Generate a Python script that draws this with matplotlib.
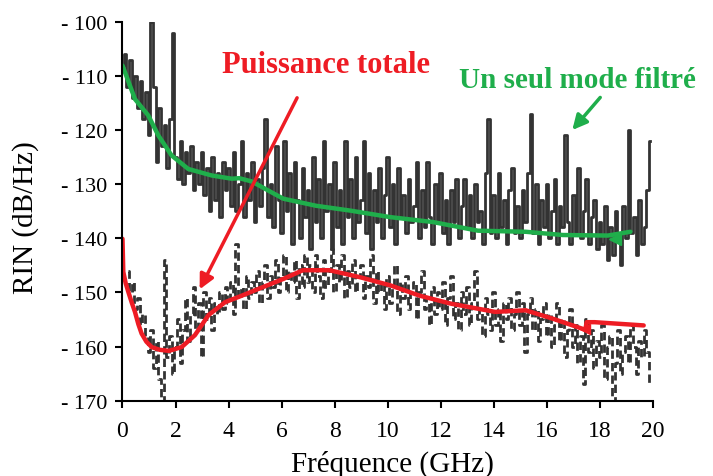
import numpy as np
import matplotlib.pyplot as plt

plt.rcParams['font.family'] = ['Liberation Serif', 'DejaVu Serif']

red = '#ee1c24'
green = '#1fae4b'
trace = '#333333'

# measured RIN, single filtered mode (0 .. 19.9 GHz, 0.1 GHz step)
f_mode = np.arange(200) / 10.0
rin_mode = [
    -108, -106, -112, -107, -114, -110, -116, -111, -118, -113,
    -121, -100, -112, -126, -116, -123, -119, -127, -118, -102,
    -125, -129, -122, -130, -124, -128, -123, -131, -126, -130,
    -124, -132, -127, -135, -125, -133, -128, -136, -126, -131,
    -127, -134, -124, -135, -130, -122, -136, -128, -133, -126,
    -137, -129, -134, -127, -118, -136, -130, -138, -123, -133,
    -139, -122, -135, -128, -141, -126, -133, -140, -127, -136,
    -131, -142, -125, -137, -129, -140, -122, -135, -130, -142,
    -126, -138, -131, -141, -122, -136, -129, -140, -125, -137,
    -133, -122, -139, -128, -142, -131, -137, -127, -140, -132,
    -125, -138, -130, -141, -127, -136, -132, -139, -129, -137,
    -134, -126, -140, -131, -138, -126, -136, -141, -130, -137,
    -128, -139, -133, -141, -131, -137, -129, -140, -134, -129,
    -138, -132, -140, -130, -137, -135, -141, -128, -118, -139,
    -132, -140, -128, -138, -133, -141, -131, -127, -139, -134,
    -140, -131, -137, -128, -117, -139, -130, -141, -133, -138,
    -130, -140, -135, -129, -141, -134, -138, -121, -137, -141,
    -132, -139, -127, -140, -135, -129, -141, -136, -133, -142,
    -137, -141, -134, -144, -138, -143, -135, -140, -145, -134,
    -140, -120, -139, -136, -143, -133, -141, -138, -131, -122,
]

# measured RIN, total power (0.2 .. 19.9 GHz, 0.1 GHz step)
f_tot = np.arange(2, 200) / 10.0
rin_tot = [
    -146, -150, -148, -153, -151, -156, -154, -158,
    -161, -157, -164, -159, -166, -170, -144, -162, -158, -165,
    -160, -155, -163, -157, -151, -159, -154, -149, -157, -152,
    -162, -150, -155, -151, -157, -152, -154, -150, -153, -149,
    -152, -148, -154, -141, -151, -149, -153, -147, -151, -148,
    -150, -146, -152, -148, -145, -151, -147, -149, -144, -150,
    -147, -143, -150, -146, -148, -144, -151, -145, -149, -143,
    -148, -145, -150, -143, -147, -151, -144, -149, -146, -142,
    -150, -145, -148, -143, -151, -146, -149, -144, -150, -147,
    -145, -151, -147, -149, -143, -152, -146, -150, -148, -153,
    -147, -152, -149, -145, -154, -148, -151, -147, -153, -150,
    -148, -155, -150, -146, -153, -151, -156, -149, -154, -150,
    -153, -148, -156, -151, -147, -155, -152, -157, -150, -154,
    -149, -156, -152, -146, -155, -153, -158, -151, -154, -157,
    -150, -156, -153, -159, -152, -155, -151, -157, -154, -150,
    -156, -152, -161, -154, -151, -157, -153, -159, -155, -152,
    -158, -154, -160, -156, -152, -159, -155, -162, -157, -153,
    -160, -156, -163, -158, -167, -155, -161, -157, -164, -159,
    -162, -156, -166, -160, -158, -170, -163, -157, -165, -161,
    -158, -163, -156, -160, -165, -159, -162, -157, -161, -167,
]

# smoothed curves
f_mode_fit = [0.0, 0.47, 0.97, 1.35, 1.85, 2.48, 3.36, 4.12, 4.4, 4.87,
              5.8, 6.07, 7.3, 8.6, 10.1, 11.7, 13.4, 15.2, 16.6, 18.3, 19.15]
rin_mode_fit = [-108.1, -114.3, -117.3, -121.0, -124.7, -127.2, -128.4, -129.0, -128.9, -129.5,
                -132.0, -132.7, -134.0, -134.9, -136.1, -137.0, -138.6, -138.8, -139.4, -139.5, -138.8]

f_tot_fit = [0.0, 0.03, 0.12, 0.22, 0.35, 0.47, 0.6, 0.72, 0.9, 1.1, 1.4, 1.75, 2.23, 2.73,
             3.24, 3.87, 4.5, 5.0, 6.07, 6.8, 7.8, 8.96, 10.1, 11.2, 12.4, 14.05, 15.2, 16.25,
             17.45, 17.5, 17.8, 19.65]
rin_tot_fit = [-140.1, -146.2, -148.3, -149.9, -151.9, -153.6, -155.9, -157.6, -159.1, -160.1, -160.6,
               -160.8, -160.1, -157.9, -154.2, -151.8, -150.6, -149.6, -147.5, -145.9, -145.9, -147.2,
               -148.7, -150.6, -152.1, -153.6, -153.3, -154.9, -156.9, -155.5, -155.5, -156.1]

yticks = [-100, -110, -120, -130, -140, -150, -160, -170]
ytick_labels = ['- 100', '- 110', '- 120', '- 130', '- 140', '- 150', '- 160', '- 170']
xticks = [0, 2, 4, 6, 8, 10, 12, 14, 16, 18, 20]

fig = plt.figure(figsize=(7.13, 4.77), dpi=100)
ax = fig.add_axes([0.1718, 0.1579, 0.7440, 0.7945])

ax.plot(f_mode, rin_mode, drawstyle='steps-mid', color=trace, lw=2.0)
ax.plot(f_tot, rin_tot, drawstyle='steps-mid', color=trace, lw=2.0, ls=(0, (3, 1.5)))

ax.plot(f_mode_fit, rin_mode_fit, color=green, lw=3.2, solid_capstyle='round')
ax.plot(f_tot_fit, rin_tot_fit, color=red, lw=3.2, solid_capstyle='round')
ax.plot([18.55], [-140.2], marker='<', ms=8, color=green)
ax.plot([17.45], [-156.8], marker='<', ms=7, color=red)

ax.text(3.76, -109.3, 'Puissance totale', color=red, fontsize=22, fontweight='bold')
ax.text(12.7, -112.0, 'Un seul mode filtré', color=green, fontsize=21, fontweight='bold')
ax.annotate('', xy=(2.86, -149.9), xytext=(6.63, -113.6),
            arrowprops=dict(arrowstyle='-|>', color=red, lw=2.5, mutation_scale=22))
ax.annotate('', xy=(16.89, -120.4), xytext=(18.08, -113.6),
            arrowprops=dict(arrowstyle='-|>', color=green, lw=2.5, mutation_scale=22))

ax.set_xlim(0, 20)
ax.set_ylim(-170, -100)
ax.set_xticks(xticks)
ax.set_yticks(yticks)
ax.set_yticklabels(ytick_labels)
ax.tick_params(axis='y', direction='out', length=5, width=1.5, labelsize=16, pad=6)
ax.tick_params(axis='x', direction='out', length=5, width=1.5, labelsize=17, pad=9)
for side in ['top', 'right']:
    ax.spines[side].set_visible(False)
for side in ['left', 'bottom']:
    ax.spines[side].set_linewidth(1.5)

ax.set_xlabel('Fréquence (GHz)', fontsize=21)
ax.set_ylabel('RIN (dB/Hz)', fontsize=21)
ax.xaxis.set_label_coords(0.509, -0.13)
ax.yaxis.set_label_coords(-0.158, 0.486)

fig.savefig('out.png', dpi=100)
